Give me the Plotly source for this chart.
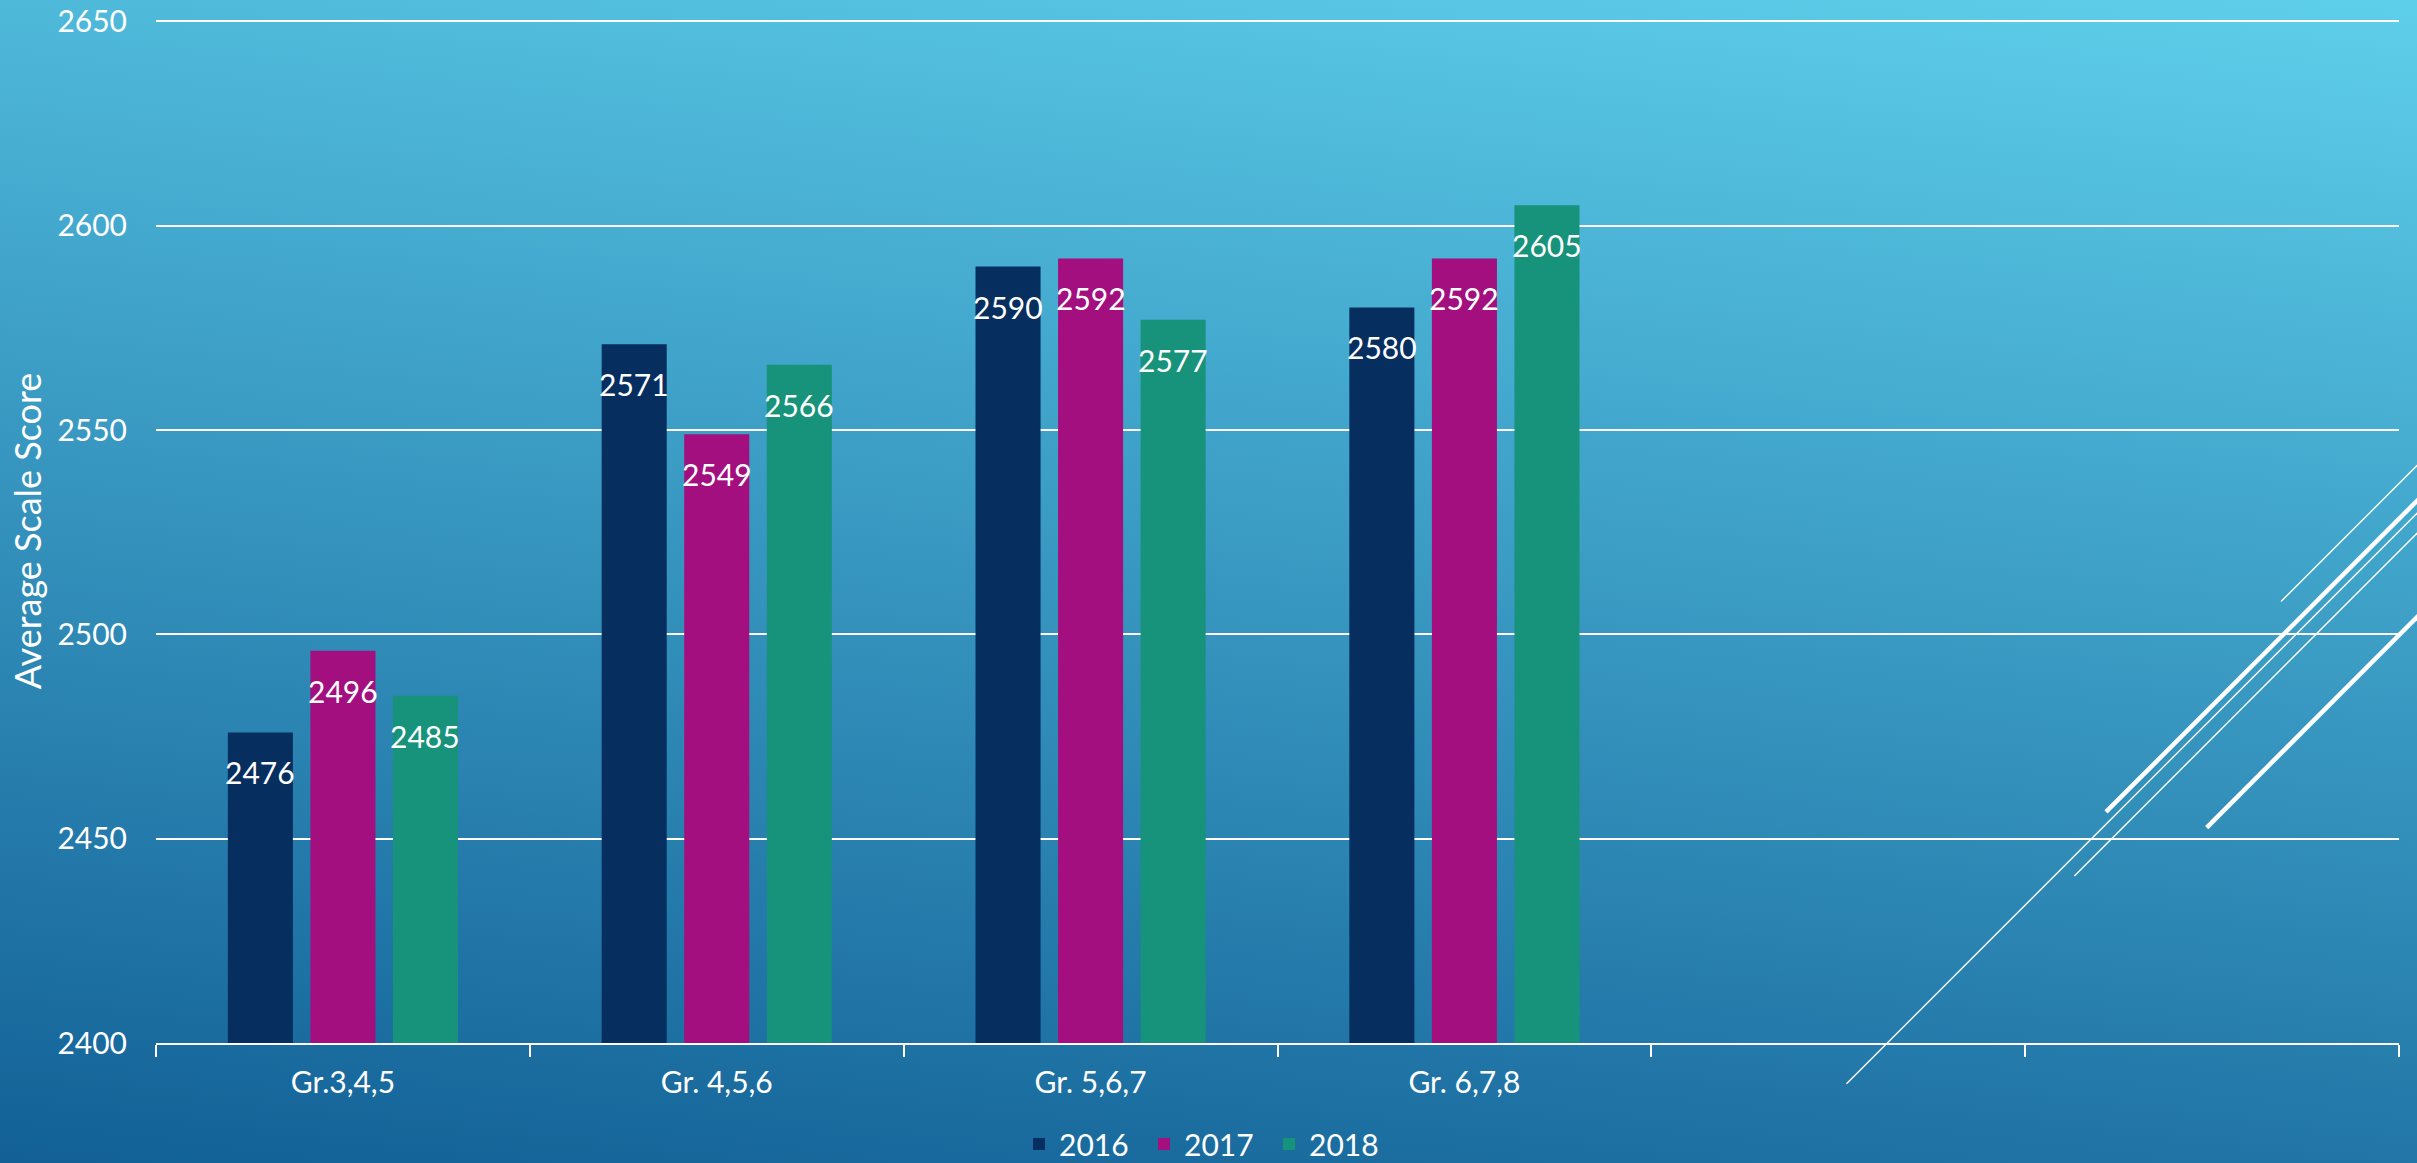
import base64
import plotly.graph_objects as go

# ---------------- data ----------------
categories = ["Gr.3,4,5", "Gr. 4,5,6", "Gr. 5,6,7", "Gr. 6,7,8"]
axis_slots = categories + [" ", "  "]
years = ["2016", "2017", "2018"]
scores_2016 = [2476, 2571, 2590, 2580]
scores_2017 = [2496, 2549, 2592, 2592]
scores_2018 = [2485, 2566, 2577, 2605]
y_ticks = [2400, 2450, 2500, 2550, 2600, 2650]

# ---------------- layout constants ----------------
W, H = 2417, 1163
ML, MR, MT, MB = 156, 18, 19.3, 120
PW, PH = W - ML - MR, H - MT - MB
BARGAP, BARGROUPGAP = 0.3375, 0.212
FONT = "Lato"
colors = ["#062E5F", "#A30F7F", "#16937A"]
series = [scores_2016, scores_2017, scores_2018]


def px2paper(px, py):
    return (px - ML) / PW, 1 - (py - MT) / PH


fig = go.Figure()
for name, vals, col in zip(years, series, colors):
    fig.add_trace(go.Bar(name=name, x=categories, y=vals, marker=dict(color=col, line=dict(width=0))))

# data labels
slot_px = PW / len(axis_slots) * (1 - BARGAP) / len(series)
annotations = []
for i, vals in enumerate(series):
    for c, v in zip(categories, vals):
        annotations.append(dict(
            x=c, y=v, xref="x", yref="y", text=str(v), showarrow=False,
            xshift=(i - 1) * slot_px, yshift=-40, yanchor="middle", xanchor="center",
            font=dict(family=FONT, size=30, color="white")))

# background gradient
svg = (
    f'<svg xmlns="http://www.w3.org/2000/svg" width="{W}" height="{H}" viewBox="0 0 {W} {H}" '
    f'preserveAspectRatio="none"><defs><linearGradient id="g" gradientUnits="userSpaceOnUse" '
    f'x1="0" y1="{H}" x2="172" y2="-269"><stop offset="0" stop-color="#126096"/>'
    f'<stop offset="1" stop-color="#5ECFEB"/></linearGradient></defs>'
    f'<rect width="{W}" height="{H}" fill="url(#g)"/></svg>'
)
src = "data:image/svg+xml;base64," + base64.b64encode(svg.encode()).decode()
images = [dict(source=src, xref="paper", yref="paper", x=-ML / PW, y=1 + MT / PH,
               sizex=W / PW, sizey=H / PH, xanchor="left", yanchor="top",
               sizing="stretch", layer="below")]

# decorative diagonal lines (pixel endpoints, 45 degrees)
deco = [((2281, 601.7), 1.4), ((2106, 812), 4.5), ((1846.5, 1083.8), 1.4),
        ((2074.4, 876), 1.4), ((2206.7, 827.6), 4.5)]
shapes = []
for (x0, y0), w in deco:
    x1 = 2430
    y1 = y0 - (x1 - x0)
    a0 = px2paper(x0, y0)
    a1 = px2paper(x1, y1)
    shapes.append(dict(type="line", xref="paper", yref="paper", x0=a0[0], y0=a0[1],
                       x1=a1[0], y1=a1[1], line=dict(color="white", width=w), layer="above"))

fig.update_layout(
    width=W, height=H,
    margin=dict(l=ML, r=MR, t=MT, b=MB, pad=0, autoexpand=False),
    barmode="group", bargap=BARGAP, bargroupgap=BARGROUPGAP,
    paper_bgcolor="#2F8CBF", plot_bgcolor="rgba(0,0,0,0)",
    font=dict(family=FONT, size=30, color="white"),
    images=images, shapes=shapes, annotations=annotations,
    legend=dict(orientation="h", x=0.5 - 71 / PW, xanchor="center", yref="container",
                y=1 - 1144 / H, yanchor="middle", font=dict(size=30, color="white"),
                bgcolor="rgba(0,0,0,0)", entrywidth=80, traceorder="normal"),
    showlegend=True,
)
fig.update_xaxes(
    type="category", categoryorder="array", categoryarray=axis_slots,
    range=[-0.5, len(axis_slots) - 0.5], automargin=False,
    showline=True, linecolor="white", linewidth=2,
    ticks="outside", tickson="boundaries", ticklen=12, tickwidth=2, tickcolor="white",
    showgrid=False, tickfont=dict(size=30, color="white"), ticklabelstandoff=12,
)
fig.update_yaxes(
    range=[2400, 2650.6], tickvals=y_ticks, showgrid=True, gridcolor="white", gridwidth=1.6,
    zeroline=False, showline=False, ticks="", tickfont=dict(size=30, color="white"),
    ticklabelstandoff=28, automargin=False,
    title=dict(text="Average Scale Score", font=dict(size=36, color="white"), standoff=4),
)

fig.write_html("out.html", config={"displayModeBar": False},
               post_script="document.body.style.margin='0';document.body.style.overflow='hidden';")
